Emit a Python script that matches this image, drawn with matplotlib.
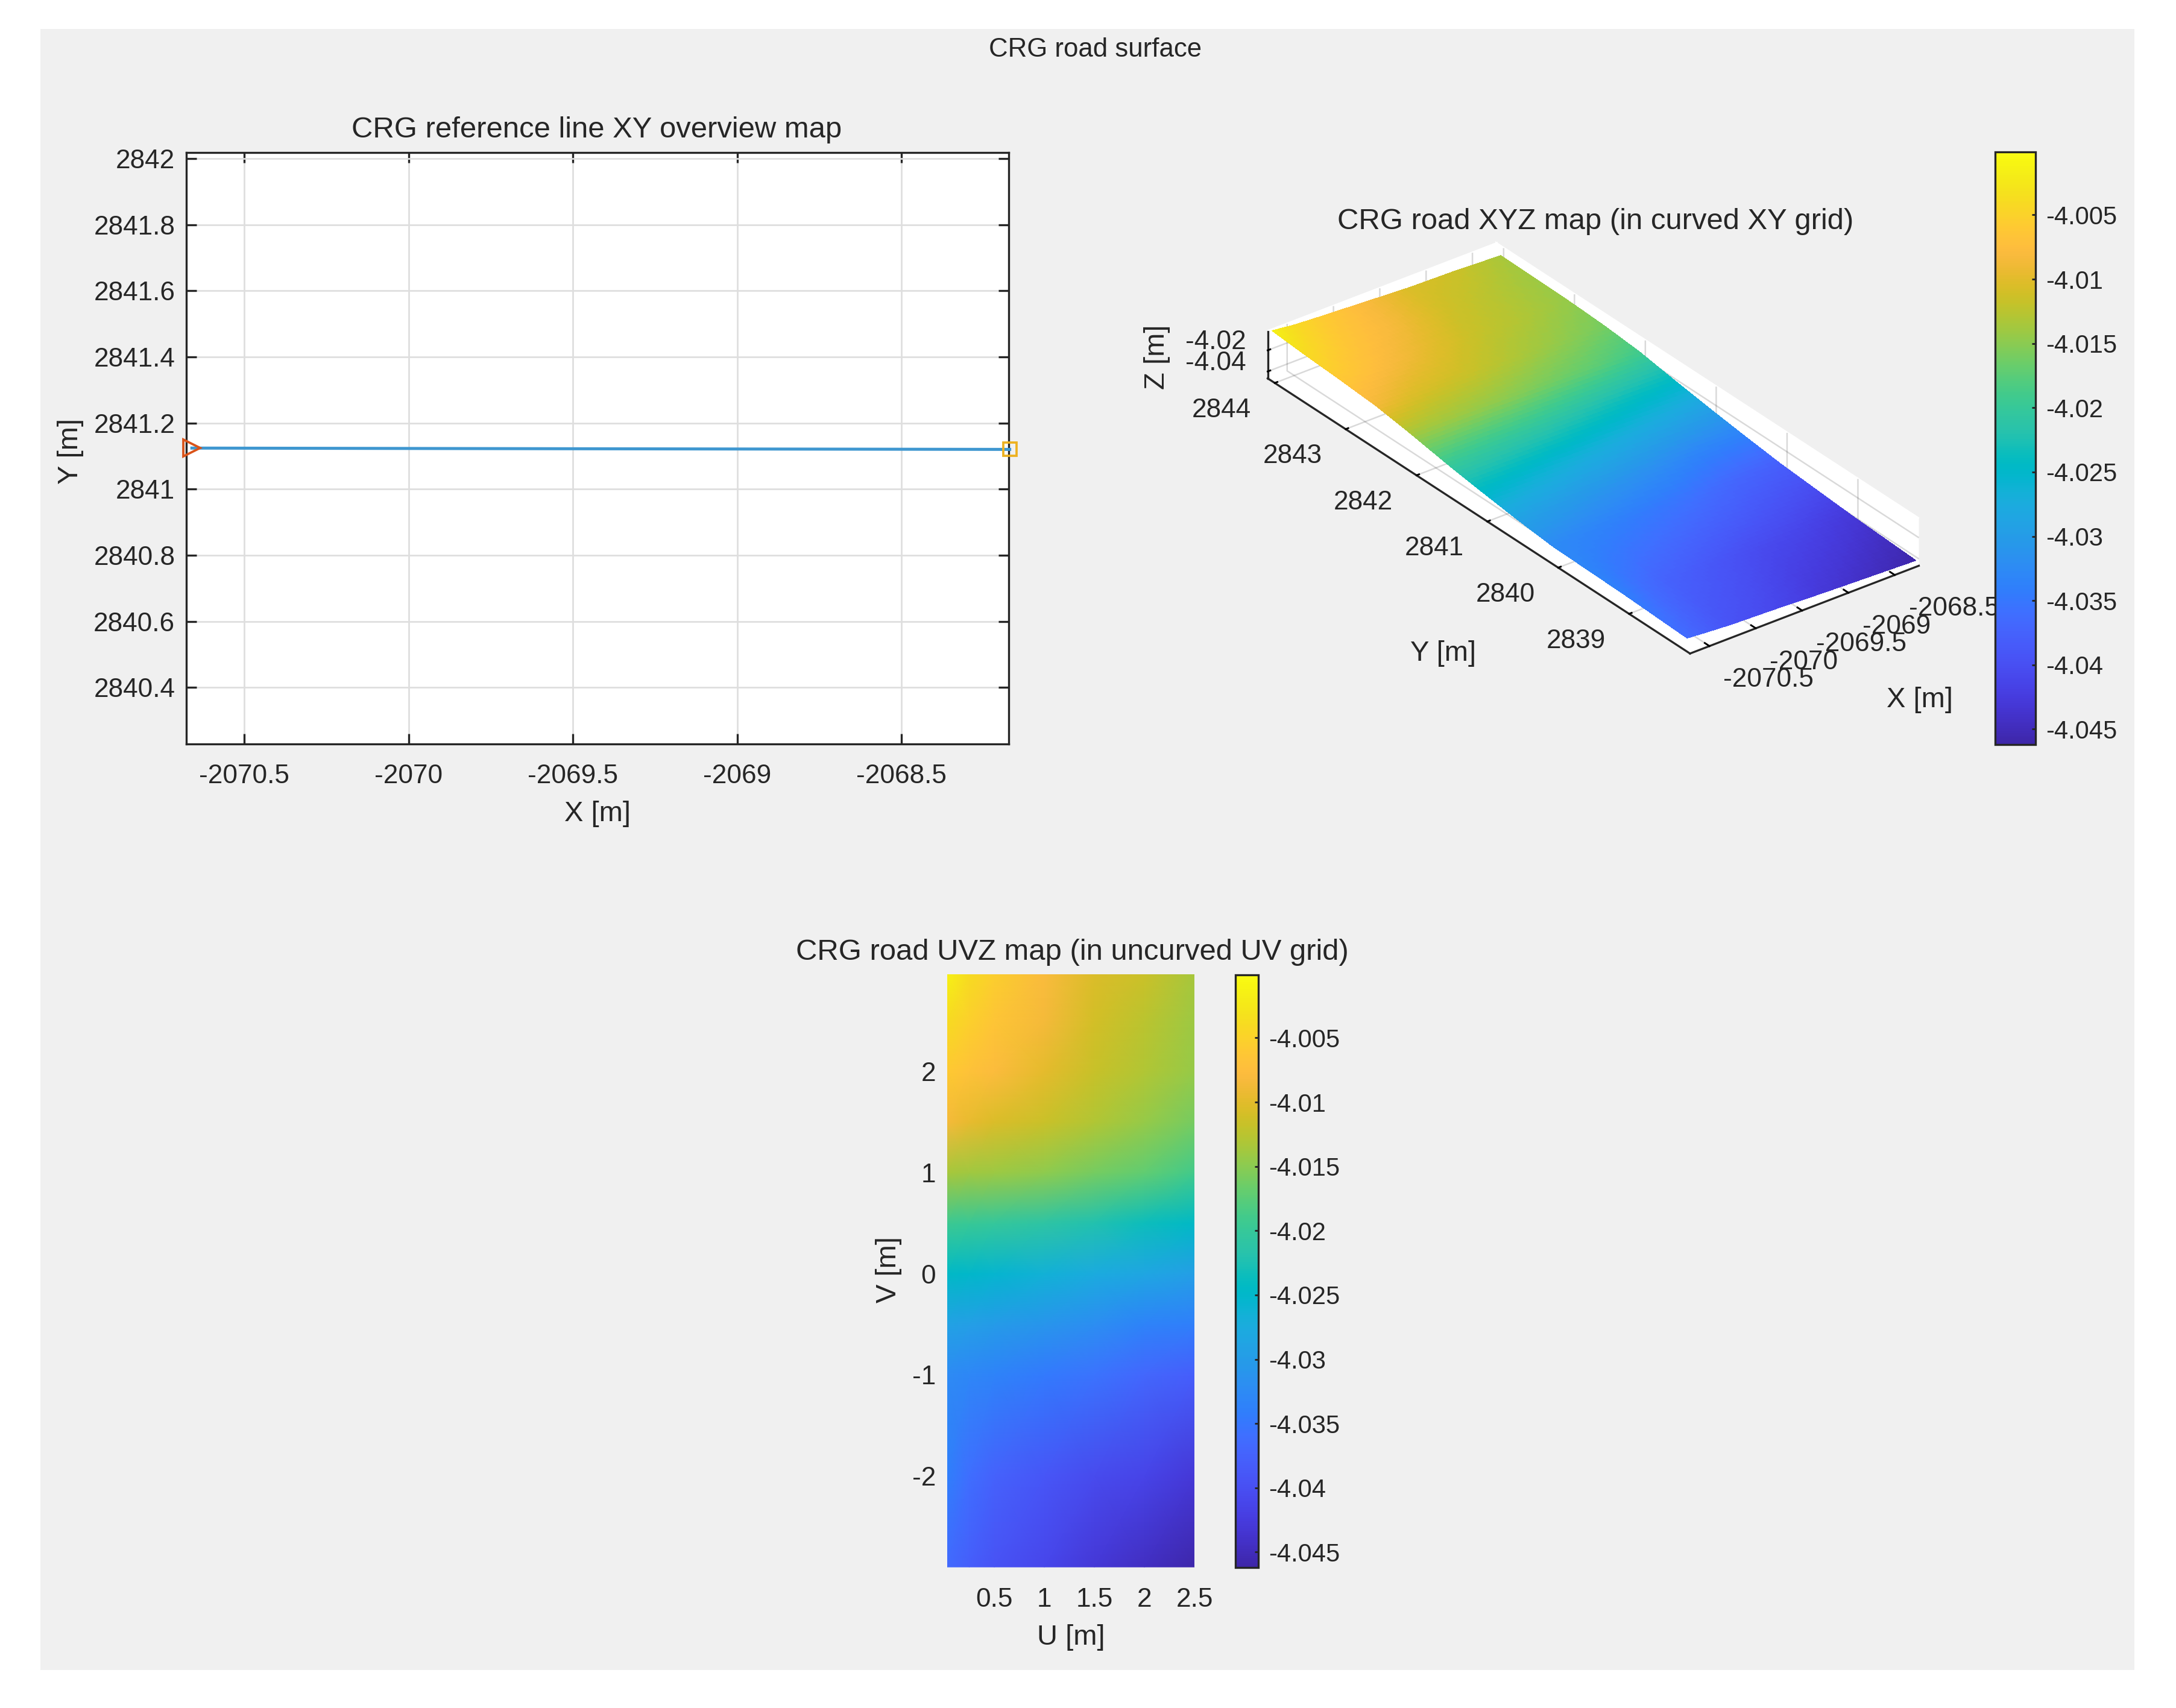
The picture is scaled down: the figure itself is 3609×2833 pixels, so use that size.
import numpy as np
import matplotlib
matplotlib.use("Agg")
import matplotlib.pyplot as plt
from matplotlib.colors import LinearSegmentedColormap, Normalize
from matplotlib.patches import Rectangle
from matplotlib.cm import ScalarMappable
from mpl_toolkits.mplot3d import proj3d

W, H = 3609, 2833
plt.rcParams['font.family'] = ['Liberation Sans', 'DejaVu Sans']
plt.rcParams['axes.unicode_minus'] = False
INK = '#262626'

# --- data ---
line_x = [-2070.66, -2069.5, -2068.17]
line_y = [2841.124, 2841.122, 2841.120]

u_vals = [0.03, 0.25, 0.5, 1.0, 1.5, 2.0, 2.5]
v_vals = [-2.9, -2.0, -1.0, -0.5, 0.0, 0.5, 1.0, 1.5, 2.0, 2.5, 2.96]
z_m29 = [-4.0365, -4.0380, -4.0395, -4.0410, -4.0430, -4.0445, -4.0460]
z_m20 = [-4.0340, -4.0360, -4.0375, -4.0390, -4.0405, -4.0415, -4.0430]
z_m10 = [-4.0325, -4.0330, -4.0335, -4.0345, -4.0355, -4.0370, -4.0380]
z_m05 = [-4.0290, -4.0295, -4.0300, -4.0310, -4.0320, -4.0335, -4.0340]
z_p00 = [-4.0245, -4.0250, -4.0255, -4.0265, -4.0275, -4.0285, -4.0295]
z_p05 = [-4.0195, -4.0198, -4.0202, -4.0210, -4.0222, -4.0235, -4.0245]
z_p10 = [-4.0135, -4.0138, -4.0140, -4.0148, -4.0160, -4.0172, -4.0190]
z_p15 = [-4.0085, -4.0095, -4.0105, -4.0115, -4.0130, -4.0145, -4.0160]
z_p20 = [-4.0060, -4.0068, -4.0078, -4.0098, -4.0118, -4.0130, -4.0145]
z_p25 = [-4.0040, -4.0052, -4.0065, -4.0085, -4.0110, -4.0125, -4.0140]
z_p29 = [-4.0015, -4.0040, -4.0055, -4.0080, -4.0105, -4.0115, -4.0135]
z_rows = [z_m29, z_m20, z_m10, z_m05, z_p00, z_p05, z_p10, z_p15, z_p20, z_p25, z_p29]

x_origin = -2070.71
y_origin = 2841.12
z_limits = (-4.0462, -4.0001)
cbar_ticks = [-4.045, -4.04, -4.035, -4.03, -4.025, -4.02, -4.015, -4.01, -4.005]
cbar_labels = ['-4.045', '-4.04', '-4.035', '-4.03', '-4.025', '-4.02', '-4.015', '-4.01', '-4.005']
xy_xticks = [-2070.5, -2070, -2069.5, -2069, -2068.5]
xy_xlabels = ['-2070.5', '-2070', '-2069.5', '-2069', '-2068.5']
xy_yticks = [2840.4, 2840.6, 2840.8, 2841, 2841.2, 2841.4, 2841.6, 2841.8, 2842]
xy_ylabels = ['2840.4', '2840.6', '2840.8', '2841', '2841.2', '2841.4', '2841.6', '2841.8', '2842']
y3_ticks = [2839, 2840, 2841, 2842, 2843, 2844]
y3_labels = ['2839', '2840', '2841', '2842', '2843', '2844']
z3_ticks = [-4.04, -4.02]
z3_labels = ['-4.04', '-4.02']
u_ticks = [0.5, 1, 1.5, 2, 2.5]
u_labels = ['0.5', '1', '1.5', '2', '2.5']
v_ticks = [-2, -1, 0, 1, 2]
v_labels = ['-2', '-1', '0', '1', '2']

parula = [
 [0.2422,0.1504,0.6603],[0.2504,0.1650,0.7076],[0.2578,0.1818,0.7511],[0.2647,0.1978,0.7952],
 [0.2706,0.2147,0.8364],[0.2751,0.2342,0.8710],[0.2783,0.2559,0.8991],[0.2803,0.2782,0.9221],
 [0.2813,0.3006,0.9414],[0.2810,0.3228,0.9579],[0.2795,0.3447,0.9717],[0.2760,0.3667,0.9829],
 [0.2699,0.3892,0.9906],[0.2602,0.4123,0.9952],[0.2440,0.4358,0.9988],[0.2206,0.4603,0.9973],
 [0.1963,0.4847,0.9892],[0.1834,0.5074,0.9798],[0.1786,0.5289,0.9682],[0.1764,0.5499,0.9520],
 [0.1687,0.5703,0.9359],[0.1540,0.5902,0.9218],[0.1460,0.6091,0.9079],[0.1380,0.6276,0.8973],
 [0.1248,0.6459,0.8883],[0.1113,0.6635,0.8763],[0.0952,0.6798,0.8598],[0.0689,0.6948,0.8394],
 [0.0297,0.7082,0.8163],[0.0036,0.7203,0.7917],[0.0067,0.7312,0.7660],[0.0433,0.7411,0.7394],
 [0.0964,0.7500,0.7120],[0.1408,0.7584,0.6842],[0.1717,0.7670,0.6554],[0.1938,0.7758,0.6251],
 [0.2161,0.7843,0.5923],[0.2470,0.7918,0.5567],[0.2906,0.7973,0.5188],[0.3406,0.8008,0.4789],
 [0.3909,0.8029,0.4354],[0.4456,0.8024,0.3909],[0.5044,0.7993,0.3480],[0.5616,0.7942,0.3045],
 [0.6174,0.7876,0.2612],[0.6720,0.7793,0.2227],[0.7242,0.7698,0.1910],[0.7738,0.7598,0.1646],
 [0.8203,0.7498,0.1535],[0.8634,0.7406,0.1596],[0.9035,0.7330,0.1774],[0.9393,0.7288,0.2100],
 [0.9728,0.7298,0.2394],[0.9956,0.7434,0.2371],[0.9970,0.7659,0.2199],[0.9952,0.7861,0.1990],
 [0.9892,0.8134,0.1760],[0.9786,0.8386,0.1496],[0.9676,0.8639,0.1260],[0.9610,0.8890,0.1100],
 [0.9597,0.9135,0.0947],[0.9626,0.9373,0.0867],[0.9691,0.9606,0.0696],[0.9769,0.9839,0.0805]]
cmap = LinearSegmentedColormap.from_list('parula', parula, N=256)
norm = Normalize(*z_limits)

fig = plt.figure(figsize=(W / 300, H / 300), dpi=300, facecolor='white')
fig.add_artist(Rectangle((67 / W, 1 - 2770 / H), (3540 - 67) / W, (2770 - 48) / H,
                         transform=fig.transFigure, facecolor='#F0F0F0', edgecolor='none', zorder=-10))
def rect(l, t, r, b):
    return [l / W, 1 - b / H, (r - l) / W, (b - t) / H]

TICK = 10.6
LABEL = 11.3
TITLE = 11.75
fig.text(1817 / W, 1 - 83 / H, 'CRG road surface', ha='center', va='center', fontsize=10.5, color=INK)

# ---- XY overview ----
ax1 = fig.add_axes(rect(309, 253, 1673, 1234), facecolor='white')
ax1.plot(line_x, line_y, color='#3F97D0', lw=1.2, zorder=3, clip_on=False)
ax1.plot(line_x[0], line_y[0], '>', ms=6.6, mfc='none', mec='#D95319', mew=0.9, clip_on=False, zorder=4)
ax1.plot(line_x[-1], line_y[-1], 's', ms=5.2, mfc='none', mec='#EDB120', mew=0.9, clip_on=False, zorder=4)
ax1.set_xlim(-2070.677, -2068.173)
ax1.set_ylim(2840.229, 2842.018)
ax1.set_xticks(xy_xticks, xy_xlabels)
ax1.set_yticks(xy_yticks, xy_ylabels)
ax1.grid(True, color='#DEDEDE', lw=0.65)
ax1.set_axisbelow(True)
ax1.tick_params(axis='both', direction='in', length=4, width=0.8, color=INK, labelcolor=INK,
                labelsize=TICK, top=True, right=True)
ax1.tick_params(axis='x', pad=8)
ax1.tick_params(axis='y', pad=4.5)
for s in ax1.spines.values():
    s.set_linewidth(0.8); s.set_color(INK)
ax1.set_xlabel('X [m]', fontsize=LABEL, color=INK)
ax1.set_ylabel('Y [m]', fontsize=LABEL, color=INK)
ax1.xaxis.set_label_coords(0.5, (1234 - 1350) / (1234 - 253), transform=ax1.transAxes)
ax1.yaxis.set_label_coords((117 - 309) / (1673 - 309), (1234 - 748) / (1234 - 253), transform=ax1.transAxes)
ax1.xaxis.label.set_va('center'); ax1.yaxis.label.set_va('center')
fig.text(990 / W, 1 - 215 / H, 'CRG reference line XY overview map', ha='center', va='center', fontsize=TITLE, color=INK)

# ---- UV map ----
U = np.array(u_vals); V = np.array(v_vals); Z = np.array(z_rows)
UV_T, UV_B = 1616, 2600
ax3 = fig.add_axes(rect(1571, UV_T, 1981, UV_B), facecolor='#F0F0F0')
UU, VV = np.meshgrid(U, V)
ax3.pcolormesh(UU, VV, Z, shading='gouraud', cmap=cmap, norm=norm, rasterized=True)
ax3.set_xlim(0.03, 2.5); ax3.set_ylim(-2.905, 2.96)
ax3.set_xticks(u_ticks, u_labels); ax3.set_yticks(v_ticks, v_labels)
ax3.tick_params(axis='both', length=0, labelcolor=INK, labelsize=TICK)
ax3.tick_params(axis='x', pad=8); ax3.tick_params(axis='y', pad=4.5)
for s in ax3.spines.values():
    s.set_visible(False)
ax3.set_xlabel('U [m]', fontsize=LABEL, color=INK)
ax3.set_ylabel('V [m]', fontsize=LABEL, color=INK)
ax3.xaxis.set_label_coords((1776 - 1571) / 410, (UV_B - 2716) / (UV_B - UV_T), transform=ax3.transAxes)
ax3.yaxis.set_label_coords((1474 - 1571) / 410, (UV_B - 2106) / (UV_B - UV_T), transform=ax3.transAxes)
ax3.xaxis.label.set_va('center'); ax3.yaxis.label.set_va('center')
fig.text(1778 / W, 1 - 1580 / H, 'CRG road UVZ map (in uncurved UV grid)', ha='center', va='center', fontsize=TITLE, color=INK)

# ---- XYZ surface (MATLAB default view) ----
xlim3 = (-2070.71, -2068.24); ylim3 = (2838.14, 2844.10); zlim3 = (-4.0465, -4.002)
ax2 = fig.add_axes([0.45, 0.45, 0.5, 0.5], projection='3d', proj_type='ortho', computed_zorder=False)
ax2.patch.set_alpha(0)
ax2.view_init(elev=30, azim=-127.5)
ax2.set_xlim(*xlim3, view_margin=0); ax2.set_ylim(*ylim3, view_margin=0); ax2.set_zlim(*zlim3, view_margin=0)
# finer shading cells between the read values, so the surface shades smoothly
fu = np.linspace(U[0], U[-1], 60); fv = np.linspace(V[0], V[-1], 120)
Zc = np.array([np.interp(fu, U, row) for row in Z])
Zf = np.array([np.interp(fv, V, col) for col in Zc.T]).T
XX, YY = np.meshgrid(x_origin + fu, y_origin + fv)
ax2.plot_surface(XX, YY, Zf, rstride=1, cstride=1, cmap=cmap, norm=norm, linewidth=0, antialiased=False, shade=False)
ax2.set_xticks(xy_xticks, [''] * len(xy_xticks))
ax2.set_yticks(y3_ticks, [''] * len(y3_ticks))
ax2.set_zticks(z3_ticks, [''] * len(z3_ticks))
for axis in (ax2.xaxis, ax2.yaxis, ax2.zaxis):
    axis.set_pane_color((1, 1, 1, 1))
    axis.pane.set_edgecolor((1, 1, 1, 1))
    axis.line.set_color(INK); axis.line.set_linewidth(0.8)
    axis._axinfo['grid'].update(color=(0, 0, 0, 0.15), linewidth=0.6)
    axis._axinfo['tick'].update(inward_factor=0.0, outward_factor=0.14)
    axis._axinfo['tick']['linewidth'] = {True: 0.7, False: 0.5}
    axis._axinfo['tick']['color'] = INK

def proj_xy(x, y, z):
    xs, ys, _ = proj3d.proj_transform(x, y, z, ax2.get_proj())
    return xs, ys

def proj_px(x, y, z):
    return ax2.transData.transform(proj_xy(x, y, z))

target_B = np.array([2803, H - 1084]); target_C = np.array([3182, H - 937])
aspect = np.array([477.7, 1149, 90.0])
zoom = 1.0
pos_l, pos_b, side = 0.42, 0.40, 0.58
for _ in range(6):
    ax2.set_box_aspect(aspect, zoom=zoom)
    ax2.set_position([pos_l, pos_b, side, side * W / H])
    ax2.apply_aspect()
    B = proj_px(xlim3[0], ylim3[0], zlim3[0]); C = proj_px(xlim3[1], ylim3[0], zlim3[0])
    zoom *= np.linalg.norm(target_C - target_B) / np.linalg.norm(C - B)
    ax2.set_box_aspect(aspect, zoom=zoom)
    B = proj_px(xlim3[0], ylim3[0], zlim3[0])
    d = target_B - B
    pos_l += d[0] / W; pos_b += d[1] / H
ax2.set_position([pos_l, pos_b, side, side * W / H])
ax2.apply_aspect()

# tick labels of the 3-D box, anchored at the projected ticks
PT = 72 / 300
def tick_text(label, xyz, dx, dy, ha):
    ax2.annotate(label, xy=proj_xy(*xyz), xycoords='data', xytext=(dx * PT, dy * PT),
                 textcoords='offset points', ha=ha, va='center', fontsize=TICK, color=INK,
                 annotation_clip=False)
for t, s in zip(xy_xticks, xy_xlabels):
    tick_text(s, (t, ylim3[0], zlim3[0]), 23, -56, 'left')
for t, s in zip(y3_ticks, y3_labels):
    tick_text(s, (xlim3[0], t, zlim3[0]), -88, -45, 'center')
for t, s in zip(z3_ticks, z3_labels):
    tick_text(s, (xlim3[0], ylim3[1], t), -36, 14, 'right')

fig.text(3184 / W, 1 - 1161 / H, 'X [m]', ha='center', va='center', color=INK, fontsize=LABEL)
fig.text(2394 / W, 1 - 1084 / H, 'Y [m]', ha='center', va='center', color=INK, fontsize=LABEL)
fig.text(1919 / W, 1 - 592 / H, 'Z [m]', rotation=90, ha='center', va='center', color=INK, fontsize=LABEL)
fig.text(2646 / W, 1 - 367 / H, 'CRG road XYZ map (in curved XY grid)', ha='center', va='center', fontsize=TITLE, color=INK)

# ---- colour bars ----
def add_cbar(l, t, r, b):
    cax = fig.add_axes(rect(l, t, r, b), zorder=5)
    cb = fig.colorbar(ScalarMappable(norm=norm, cmap=cmap), cax=cax)
    cb.set_ticks(cbar_ticks, labels=cbar_labels)
    cb.ax.tick_params(direction='in', length=1.5, width=0.7, color=INK, labelcolor=INK, labelsize=TICK - 0.6, pad=4)
    cb.outline.set_linewidth(0.8); cb.outline.set_edgecolor(INK)
    return cb
add_cbar(3309, 252, 3376, 1235)
add_cbar(2049, 1617, 2087, UV_B)

fig.savefig('out.png', dpi=300, facecolor='white')
